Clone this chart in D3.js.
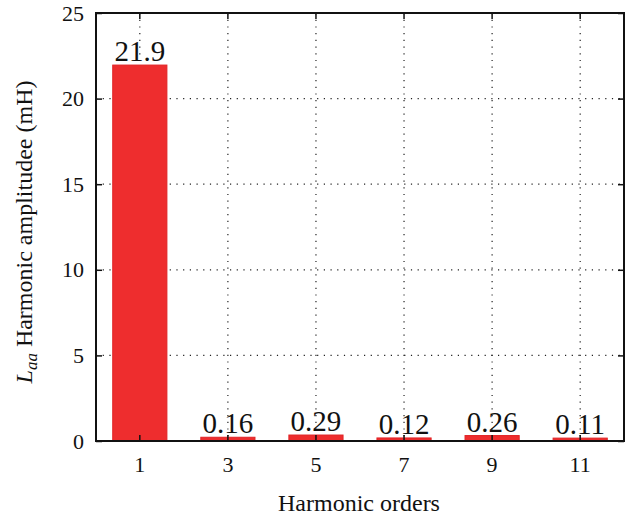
<!DOCTYPE html>
<html>
<head>
<meta charset="utf-8">
<script src="https://cdn.jsdelivr.net/npm/d3@7"></script>
<style>
  body { margin: 0; background: #fff; }
  svg text { font-family: 'Liberation Serif', 'DejaVu Serif', serif !important; fill: #111; }
</style>
</head>
<body>
<svg id="chart" width="630" height="517" style="font-family: 'Liberation Serif', serif"></svg>
<script>
  const orders = ["1", "3", "5", "7", "9", "11"];
  const amplitudes = [21.9, 0.16, 0.29, 0.12, 0.26, 0.11];
  const valueLabels = ["21.9", "0.16", "0.29", "0.12", "0.26", "0.11"];
  const yTicks = [0, 5, 10, 15, 20, 25];

  const margin = { top: 13, right: 6, bottom: 76, left: 96 };
  const width = 630 - margin.left - margin.right;
  const height = 517 - margin.top - margin.bottom;

  const svg = d3.select("#chart");
  const g = svg.append("g").attr("transform", `translate(${margin.left},${margin.top})`);

  const x = d3.scaleBand().domain(orders).range([0, width]).paddingInner(0.385).paddingOuter(0.19);
  const y = d3.scaleLinear().domain([0, 25]).range([height, 0]);

  // dotted grid
  const grid = g.append("g").attr("stroke", "#222").attr("stroke-width", 1.2)
    .attr("stroke-dasharray", "1.2,5.5");
  grid.selectAll(".gx").data(orders).join("line")
    .attr("x1", d => x(d) + x.bandwidth() / 2).attr("x2", d => x(d) + x.bandwidth() / 2)
    .attr("y1", 0).attr("y2", height);
  grid.selectAll(".gy").data(yTicks.slice(1, -1)).join("line")
    .attr("x1", 0).attr("x2", width)
    .attr("y1", d => y(d)).attr("y2", d => y(d));

  // bars
  g.selectAll(".bar").data(amplitudes).join("rect")
    .attr("x", (d, i) => x(orders[i]))
    .attr("y", d => y(d) - 1)
    .attr("width", x.bandwidth())
    .attr("height", d => height - y(d) + 1)
    .attr("fill", "#ee2d2e")
    .attr("stroke", "#e02426").attr("stroke-width", 1);

  // value labels
  g.selectAll(".val").data(amplitudes).join("text")
    .attr("x", (d, i) => x(orders[i]) + x.bandwidth() / 2)
    .attr("y", d => y(d) - 5)
    .attr("text-anchor", "middle")
    .attr("font-size", 29)
    .text((d, i) => valueLabels[i]);

  // axes (inward ticks on all four sides)
  const tickLen = 6;
  const axB = g.append("g").attr("transform", `translate(0,${height})`)
    .call(d3.axisBottom(x).tickSizeInner(-tickLen).tickSizeOuter(0).tickPadding(15));
  const axT = g.append("g")
    .call(d3.axisTop(x).tickSizeInner(-tickLen).tickSizeOuter(0).tickFormat(""));
  const axL = g.append("g")
    .call(d3.axisLeft(y).tickValues(yTicks).tickSizeInner(-tickLen).tickSizeOuter(0).tickPadding(12));
  const axR = g.append("g").attr("transform", `translate(${width},0)`)
    .call(d3.axisRight(y).tickValues(yTicks).tickSizeInner(-tickLen).tickSizeOuter(0).tickFormat(""));

  [axB, axT, axL, axR].forEach(a => {
    a.attr("font-family", null);
    a.select(".domain").remove();
    a.selectAll(".tick line").attr("stroke", "#111").attr("stroke-width", 1.5);
    a.selectAll(".tick text").attr("font-size", 22).attr("fill", "#111");
  });

  // frame
  g.append("rect").attr("width", width).attr("height", height)
    .attr("fill", "none").attr("stroke", "#111").attr("stroke-width", 2);

  // axis titles
  svg.append("text")
    .attr("x", margin.left + width / 2 - 1).attr("y", 511)
    .attr("text-anchor", "middle").attr("font-size", 24)
    .text("Harmonic orders");

  const yl = svg.append("text")
    .attr("transform", `translate(32,232) rotate(-90)`)
    .attr("text-anchor", "middle").attr("font-size", 24);
  yl.append("tspan").attr("font-style", "italic").text("L");
  yl.append("tspan").attr("font-style", "italic").attr("font-size", 17).attr("dy", 5).text("aa");
  yl.append("tspan").attr("dy", -5).text(" Harmonic amplitudee (mH)");
</script>
</body>
</html>
